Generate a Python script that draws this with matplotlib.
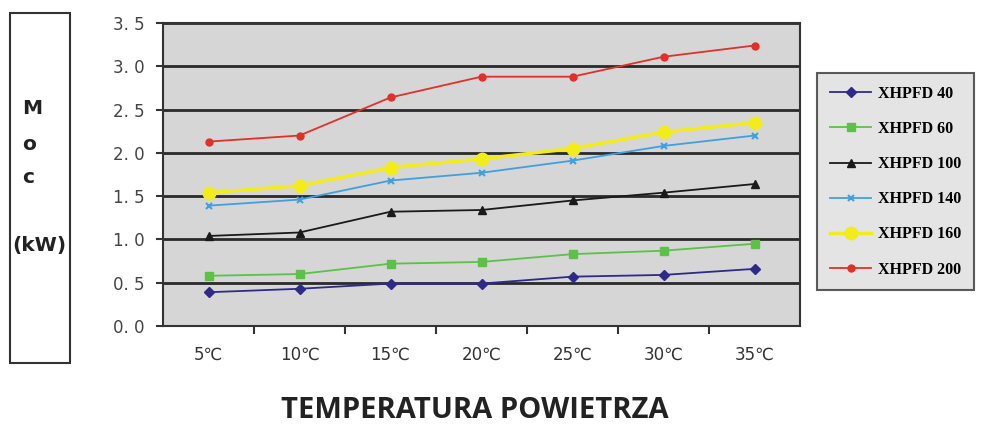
import matplotlib
matplotlib.use("Agg")
import matplotlib.pyplot as plt
from matplotlib.patches import Rectangle
import numpy as np

temps = ["5℃", "10℃", "15℃", "20℃", "25℃", "30℃", "35℃"]
series_names = ["XHPFD 40", "XHPFD 60", "XHPFD 100", "XHPFD 140", "XHPFD 160", "XHPFD 200"]

xhpfd_40  = [0.39, 0.43, 0.49, 0.49, 0.57, 0.59, 0.66]
xhpfd_60  = [0.58, 0.60, 0.72, 0.74, 0.83, 0.87, 0.95]
xhpfd_100 = [1.04, 1.08, 1.32, 1.34, 1.45, 1.54, 1.64]
xhpfd_140 = [1.39, 1.46, 1.68, 1.77, 1.91, 2.08, 2.20]
xhpfd_160 = [1.54, 1.62, 1.83, 1.93, 2.05, 2.24, 2.35]
xhpfd_200 = [2.13, 2.20, 2.64, 2.88, 2.88, 3.11, 3.24]

y_ticks = [0.0, 0.5, 1.0, 1.5, 2.0, 2.5, 3.0, 3.5]

styles = [
    dict(color="#2e2a8a", marker="D", ms=5),
    dict(color="#5cc247", marker="s", ms=6),
    dict(color="#1a1a1a", marker="^", ms=6),
    dict(color="#3fa0e0", marker="x", ms=5, mew=1.5),
    dict(color="#f2ec1c", marker="o", ms=9, lw=2.5),
    dict(color="#e0302a", marker="o", ms=5),
]

fig = plt.figure(figsize=(9.81, 4.24), dpi=100)
ax = fig.add_axes([163 / 981, 1 - 326 / 424, 637 / 981, 303 / 424])
ax.set_facecolor("#d6d6d6")

x = np.arange(len(temps))
all_series = [xhpfd_40, xhpfd_60, xhpfd_100, xhpfd_140, xhpfd_160, xhpfd_200]
handles = []
for vals, name, st in zip(all_series, series_names, styles):
    st = dict(st)
    lw = st.pop("lw", 1.3)
    h, = ax.plot(x, vals, linewidth=lw, label=name, zorder=3, **st)
    handles.append(h)

ax.set_xlim(-0.5, len(temps) - 0.5)
ax.set_ylim(0, 3.5)
ax.set_yticks(y_ticks)
ax.set_yticklabels([f"{v:.1f}".replace(".", ". ") for v in y_ticks])
ax.yaxis.grid(True, color="#2a2a2a", linewidth=2.0)
ax.set_axisbelow(True)

ax.set_xticks(x)
ax.set_xticklabels(temps)
ax.set_xticks(np.arange(0.5, len(temps) - 1, 1.0), minor=True)
ax.tick_params(axis="x", which="major", length=0, pad=14, labelsize=12, labelcolor="#333333")
ax.tick_params(axis="x", which="minor", length=6, width=1.5, color="#333333", direction="out")
ax.tick_params(axis="y", length=5, width=1.5, color="#333333", labelsize=12,
               labelcolor="#444444", pad=8)
for s in ax.spines.values():
    s.set_color("#333333")
    s.set_linewidth(1.5)

# y label box
fig.patches.append(Rectangle((10 / 981, 1 - 363 / 424), 60 / 981, 350 / 424,
                             transform=fig.transFigure, fill=False,
                             edgecolor="#333333", linewidth=1.5))
for txt, xp, yp in [("M", 22, 108), ("o", 22, 145), ("c", 22, 178), ("(kW)", 12, 245)]:
    fig.text(xp / 981, 1 - yp / 424, txt,
             fontsize=14.5, fontweight="bold", color="#222222",
             ha="left", va="center", family="DejaVu Sans")

fig.text(475 / 981, 1 - 410 / 424, "TEMPERATURA POWIETRZA", fontsize=21,
         family="Open Sans", fontweight="bold", color="#222222",
         ha="center", va="center")

leg = fig.legend(handles=handles, loc="upper left",
                 bbox_to_anchor=(817 / 981, 1 - 73 / 424),
                 prop={"family": "Liberation Serif", "weight": "bold", "size": 11.5},
                 frameon=True, fancybox=False, labelspacing=1.2,
                 handlelength=2.6, borderpad=0.8, handletextpad=0.4,
                 borderaxespad=0)
leg.get_frame().set_facecolor("#dedede")
leg.get_frame().set_edgecolor("#333333")
leg.get_frame().set_linewidth(1.5)

fig.savefig("out.png", dpi=100)
